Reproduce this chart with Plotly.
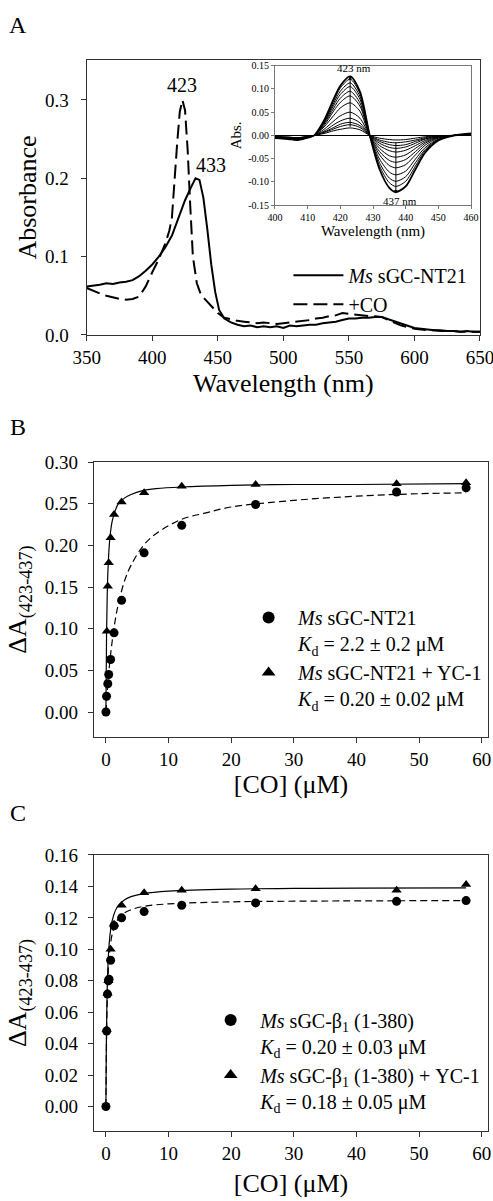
import plotly.graph_objects as go

SERIF = 'Liberation Serif, Times New Roman, serif'

# ---- Panel A: spectra of Ms sGC-NT21 without / with CO ----
wl_free = [350, 355, 360, 365, 370, 375, 380, 385, 390, 395, 400, 405, 410, 415, 420, 425, 430, 433, 436,
           439, 442, 445, 448, 451, 455, 460, 465, 470, 475, 480, 485, 490, 495, 500, 505, 510, 515, 520,
           525, 530, 535, 540, 545, 550, 555, 560, 565, 570, 575, 580, 585, 590, 595, 600, 605, 610, 615,
           620, 625, 630, 635, 640, 645, 650]
abs_free = [0.062, 0.063, 0.064, 0.066, 0.065, 0.067, 0.068, 0.070, 0.075, 0.082, 0.090, 0.100, 0.112, 0.127,
            0.150, 0.172, 0.190, 0.200, 0.198, 0.175, 0.135, 0.090, 0.055, 0.032, 0.021, 0.016, 0.013, 0.011,
            0.012, 0.010, 0.011, 0.010, 0.011, 0.009, 0.012, 0.011, 0.012, 0.013, 0.013, 0.015, 0.016, 0.017,
            0.019, 0.021, 0.021, 0.022, 0.022, 0.023, 0.023, 0.020, 0.018, 0.014, 0.011, 0.009, 0.008, 0.007,
            0.006, 0.006, 0.005, 0.005, 0.004, 0.005, 0.004, 0.004]

wl_co = [350, 355, 360, 365, 370, 375, 380, 385, 390, 395, 400, 405, 410, 413, 415, 417, 419, 421, 423, 425,
         427, 429, 431, 434, 437, 440, 445, 450, 455, 460, 465, 470, 475, 480, 485, 490, 495, 500, 505, 510,
         515, 520, 525, 530, 535, 540, 545, 550, 555, 560, 565, 570, 575, 580, 585, 590, 595, 600, 605, 610,
         615, 620, 625, 630, 635, 640, 645, 650]
abs_co = [0.060, 0.056, 0.053, 0.050, 0.048, 0.046, 0.045, 0.046, 0.049, 0.062, 0.080, 0.097, 0.117, 0.133,
          0.150, 0.200, 0.245, 0.285, 0.300, 0.287, 0.236, 0.164, 0.100, 0.066, 0.052, 0.046, 0.037, 0.028,
          0.022, 0.020, 0.018, 0.017, 0.016, 0.015, 0.016, 0.015, 0.014, 0.015, 0.016, 0.017, 0.018, 0.019,
          0.021, 0.022, 0.024, 0.025, 0.028, 0.027, 0.026, 0.025, 0.024, 0.024, 0.023, 0.019, 0.015, 0.012,
          0.010, 0.008, 0.007, 0.006, 0.006, 0.005, 0.005, 0.005, 0.004, 0.004, 0.004, 0.004]

# ---- Inset: difference spectra during CO titration ----
wl_diff = [400, 404, 407, 410, 412, 415, 418, 420, 423, 426, 429, 432, 435, 437, 440, 443, 446, 450, 455, 460]
diff_spectra = [
    [-0.003, -0.004, -0.005, -0.002, 0, 0.004, 0.010, 0.013, 0.016, 0.012, 0, -0.006, -0.009, -0.010, -0.009, -0.006, -0.003, -0.001, 0, 0.001],
    [-0.003, -0.004, -0.005, -0.003, 0, 0.006, 0.014, 0.019, 0.023, 0.017, 0, -0.010, -0.015, -0.016, -0.014, -0.010, -0.005, -0.001, 0, 0.001],
    [-0.003, -0.004, -0.005, -0.003, 0, 0.007, 0.017, 0.024, 0.028, 0.021, 0, -0.013, -0.020, -0.022, -0.020, -0.013, -0.007, -0.002, 0, 0.001],
    [-0.003, -0.005, -0.006, -0.003, 0, 0.009, 0.023, 0.031, 0.037, 0.027, 0, -0.017, -0.026, -0.028, -0.025, -0.017, -0.008, -0.003, 0, 0.001],
    [-0.004, -0.005, -0.006, -0.003, 0, 0.013, 0.031, 0.042, 0.050, 0.037, 0, -0.022, -0.033, -0.036, -0.032, -0.022, -0.011, -0.003, 0, 0.001],
    [-0.004, -0.006, -0.007, -0.004, 0, 0.018, 0.043, 0.059, 0.070, 0.052, 0, -0.028, -0.044, -0.047, -0.042, -0.028, -0.014, -0.004, 0, 0.001],
    [-0.005, -0.006, -0.008, -0.004, 0, 0.021, 0.053, 0.071, 0.085, 0.063, 0, -0.035, -0.054, -0.058, -0.052, -0.035, -0.017, -0.005, 0, 0.002],
    [-0.005, -0.007, -0.009, -0.004, 0, 0.024, 0.059, 0.080, 0.095, 0.070, 0, -0.042, -0.065, -0.070, -0.063, -0.042, -0.021, -0.006, 0, 0.002],
    [-0.005, -0.007, -0.009, -0.005, 0, 0.026, 0.065, 0.088, 0.105, 0.078, 0, -0.051, -0.079, -0.085, -0.077, -0.051, -0.026, -0.008, 0, 0.003],
    [-0.006, -0.007, -0.009, -0.005, 0, 0.028, 0.070, 0.095, 0.113, 0.084, 0, -0.059, -0.092, -0.099, -0.089, -0.059, -0.030, -0.009, 0, 0.003],
    [-0.006, -0.008, -0.010, -0.005, 0, 0.030, 0.075, 0.102, 0.121, 0.090, 0, -0.066, -0.102, -0.110, -0.099, -0.066, -0.033, -0.010, 0, 0.003],
    [-0.006, -0.008, -0.010, -0.005, 0, 0.032, 0.079, 0.107, 0.127, 0.094, 0, -0.073, -0.113, -0.122, -0.110, -0.073, -0.037, -0.011, 0, 0.004],
]
peak_arrow = [0.015, 0.128]     # at 423 nm
trough_arrow = [-0.012, -0.125]  # at 437 nm

# ---- Panel B: CO titration of Ms sGC-NT21 ----
co_b_free = [0, 0.1, 0.3, 0.45, 0.75, 1.3, 2.5, 6.1, 12.1, 23.9, 46.4, 57.5]
dA_b_free = [0, 0.019, 0.034, 0.045, 0.063, 0.095, 0.134, 0.191, 0.224, 0.249, 0.264, 0.269]
co_b_yc1 = [0.15, 0.3, 0.45, 0.75, 1.3, 2.5, 6.1, 12.1, 23.9, 46.4, 57.5]
dA_b_yc1 = [0.097, 0.151, 0.179, 0.209, 0.237, 0.252, 0.263, 0.271, 0.273, 0.274, 0.275]
fit_b_free_x = [0, 0.25, 0.5, 1, 1.5, 2, 3, 4, 6, 8, 12, 16, 20, 30, 40, 50, 57.5]
fit_b_free_y = [0, 0.028, 0.051, 0.085, 0.111, 0.130, 0.158, 0.176, 0.200, 0.214, 0.231, 0.239, 0.246, 0.254, 0.259, 0.262, 0.263]
fit_b_yc1_x = [0, 0.1, 0.2, 0.3, 0.5, 0.75, 1, 1.5, 2, 3, 4, 6, 8, 12, 20, 30, 40, 57.5]
fit_b_yc1_y = [0, 0.092, 0.137, 0.165, 0.196, 0.217, 0.229, 0.242, 0.250, 0.257, 0.261, 0.266, 0.268, 0.270, 0.272, 0.273, 0.273, 0.274]

# ---- Panel C: CO titration of Ms sGC-beta1(1-380) ----
co_c_free = [0, 0.12, 0.25, 0.4, 0.5, 0.75, 1.3, 2.5, 6.1, 12.1, 23.9, 46.4, 57.5]
dA_c_free = [0, 0.048, 0.0715, 0.080, 0.081, 0.093, 0.115, 0.120, 0.124, 0.128, 0.1295, 0.1305, 0.131]
co_c_yc1 = [0.12, 0.25, 0.4, 0.75, 1.3, 2.5, 6.1, 12.1, 23.9, 46.4, 57.5]
dA_c_yc1 = [0.049, 0.072, 0.080, 0.100, 0.116, 0.128, 0.136, 0.1375, 0.1385, 0.1375, 0.1412]
fit_c_free_x = [0, 0.1, 0.2, 0.3, 0.5, 0.75, 1, 1.5, 2, 3, 4, 6, 10, 20, 30, 40, 57.5]
fit_c_free_y = [0, 0.0438, 0.0658, 0.0789, 0.0939, 0.1038, 0.1096, 0.1160, 0.1195, 0.1233, 0.1252, 0.1273, 0.1289, 0.1302, 0.1306, 0.1308, 0.1310]
fit_c_yc1_x = [0, 0.05, 0.1, 0.2, 0.3, 0.5, 0.75, 1, 1.5, 2, 3, 4, 6, 10, 20, 30, 40, 57.5]
fit_c_yc1_y = [0, 0.0303, 0.0498, 0.0734, 0.0872, 0.1026, 0.1125, 0.1182, 0.1246, 0.1280, 0.1316, 0.1335, 0.1354, 0.1370, 0.1383, 0.1387, 0.1389, 0.1391]

tick_a_y = [0, 0.1, 0.2, 0.3]
tick_a_y_text = ['0.0', '0.1', '0.2', '0.3']
tick_in_y = [-0.15, -0.10, -0.05, 0, 0.05, 0.10, 0.15]
tick_in_y_text = ['-0.15', '-0.10', '-0.05', '0.00', '0.05', '0.10', '0.15']

fig = go.Figure()

# panel A
fig.add_trace(go.Scatter(x=wl_free, y=abs_free, mode='lines', name='<i>Ms</i> sGC-NT21',
                         line=dict(color='black', width=2), legend='legend'))
fig.add_trace(go.Scatter(x=wl_co, y=abs_co, mode='lines', name='+CO',
                         line=dict(color='black', width=2, dash='14px,6px'), legend='legend'))

# inset
for i, spec in enumerate(diff_spectra):
    fig.add_trace(go.Scatter(x=wl_diff, y=spec, mode='lines', xaxis='x2', yaxis='y2', showlegend=False,
                             line=dict(color='black', width=1.8 if i == len(diff_spectra) - 1 else 1,
                                       shape='spline', smoothing=0.8)))

# panel B
fig.add_trace(go.Scatter(x=fit_b_free_x, y=fit_b_free_y, mode='lines', xaxis='x3', yaxis='y3', showlegend=False,
                         line=dict(color='black', width=1.2, dash='7px,4px', shape='spline')))
fig.add_trace(go.Scatter(x=fit_b_yc1_x, y=fit_b_yc1_y, mode='lines', xaxis='x3', yaxis='y3', showlegend=False,
                         line=dict(color='black', width=1.2, shape='spline')))
fig.add_trace(go.Scatter(x=co_b_free, y=dA_b_free, mode='markers', xaxis='x3', yaxis='y3', legend='legend2',
                         name='<i>Ms</i> sGC-NT21<br><i>K</i><sub>d</sub> = 2.2 ± 0.2 μM',
                         marker=dict(symbol='circle', size=9, color='black')))
fig.add_trace(go.Scatter(x=co_b_yc1, y=dA_b_yc1, mode='markers', xaxis='x3', yaxis='y3', legend='legend2',
                         name='<i>Ms</i> sGC-NT21 + YC-1<br><i>K</i><sub>d</sub> = 0.20 ± 0.02 μM',
                         marker=dict(symbol='triangle-up', size=9, color='black')))

# panel C
fig.add_trace(go.Scatter(x=fit_c_free_x, y=fit_c_free_y, mode='lines', xaxis='x4', yaxis='y4', showlegend=False,
                         line=dict(color='black', width=1.2, dash='7px,4px', shape='spline')))
fig.add_trace(go.Scatter(x=fit_c_yc1_x, y=fit_c_yc1_y, mode='lines', xaxis='x4', yaxis='y4', showlegend=False,
                         line=dict(color='black', width=1.2, shape='spline')))
fig.add_trace(go.Scatter(x=co_c_free, y=dA_c_free, mode='markers', xaxis='x4', yaxis='y4', legend='legend3',
                         name='<i>Ms</i> sGC-β<sub>1</sub> (1-380)<br><i>K</i><sub>d</sub> = 0.20 ± 0.03 μM',
                         marker=dict(symbol='circle', size=9, color='black')))
fig.add_trace(go.Scatter(x=co_c_yc1, y=dA_c_yc1, mode='markers', xaxis='x4', yaxis='y4', legend='legend3',
                         name='<i>Ms</i> sGC-β<sub>1</sub> (1-380) + YC-1<br><i>K</i><sub>d</sub> = 0.18 ± 0.05 μM',
                         marker=dict(symbol='triangle-up', size=9, color='black')))


def frame(size=19, **kw):
    d = dict(showline=True, linecolor='#333', linewidth=1.2, mirror=True, ticks='outside', ticklen=5,
             tickcolor='#333', showgrid=False, zeroline=False, automargin=False, ticklabeloverflow='allow',
             tickfont=dict(family=SERIF, size=size, color='black'))
    d.update(kw)
    return d


big = dict(family=SERIF, size=26, color='black')
leg_font = dict(family=SERIF, size=20, color='black')

fig.update_layout(
    width=493, height=1201, margin=dict(l=0, r=0, t=0, b=0, autoexpand=False),
    paper_bgcolor='white', plot_bgcolor='white',
    xaxis=frame(domain=[0.1759, 0.9736], anchor='y', range=[350, 650], dtick=50,
                title=dict(text='Wavelength (nm)', font=big, standoff=6)),
    yaxis=frame(domain=[0.7211, 0.95], anchor='x', range=[0, 0.351], tickvals=tick_a_y, ticktext=tick_a_y_text,
                ticklabelstandoff=8, title=dict(text='Absorbance', font=big, standoff=0)),
    xaxis2=frame(size=10, domain=[0.5578, 0.9554], anchor='y2', range=[400, 460], dtick=10, ticklen=3,
                 linecolor='#777', tickcolor='#777', linewidth=1,
                 title=dict(text='Wavelength (nm)', font=dict(family=SERIF, size=15, color='black'), standoff=2)),
    yaxis2=frame(size=10, domain=[0.8293, 0.9453], anchor='x2', range=[-0.15, 0.15], tickvals=tick_in_y,
                 ticktext=tick_in_y_text, ticklen=3, linecolor='#777', tickcolor='#777', linewidth=1,
                 zeroline=True, zerolinecolor='black', zerolinewidth=1,
                 title=dict(text='Abs.', font=dict(family=SERIF, size=15, color='black'), standoff=2)),
    xaxis3=frame(domain=[0.1907, 0.9899], anchor='y3', range=[-1.9, 61], dtick=10,
                 title=dict(text='[CO] (μM)', font=big, standoff=2)),
    yaxis3=frame(domain=[0.3863, 0.6153], anchor='x3', range=[-0.03, 0.30], dtick=0.05, tickformat='.2f',
                 ticklabelstandoff=6, title=dict(text='ΔA<sub>(423-437)</sub>', font=big, standoff=10)),
    xaxis4=frame(domain=[0.1907, 0.9899], anchor='y4', range=[-1.9, 61], dtick=10,
                 title=dict(text='[CO] (μM)', font=big, standoff=10)),
    yaxis4=frame(domain=[0.0583, 0.2881], anchor='x4', range=[-0.0156, 0.16], dtick=0.02, tickformat='.2f',
                 ticklabelstandoff=6, title=dict(text='ΔA<sub>(423-437)</sub>', font=big, standoff=10)),
    legend=dict(x=0.585, y=0.787, xanchor='left', yanchor='top', font=leg_font, bgcolor='rgba(0,0,0,0)',
                itemwidth=50, tracegroupgap=0),
    legend2=dict(x=0.485, y=0.502, xanchor='left', yanchor='top', font=leg_font, bgcolor='rgba(0,0,0,0)',
                 valign='top', itemsizing='constant', itemwidth=49),
    legend3=dict(x=0.408, y=0.167, xanchor='left', yanchor='top', font=leg_font, bgcolor='rgba(0,0,0,0)',
                 valign='top', itemsizing='constant', itemwidth=49),
)

# peak labels
fig.add_annotation(x=423, y=0.300, text='423', showarrow=False, yanchor='bottom', xref='x', yref='y',
                   font=dict(family=SERIF, size=20, color='black'), yshift=2)
fig.add_annotation(x=433, y=0.200, text='433', showarrow=False, yanchor='bottom', xanchor='left', xref='x',
                   yref='y', font=dict(family=SERIF, size=20, color='black'), xshift=-2)

# inset arrows and labels
fig.add_annotation(x=423, y=peak_arrow[1], ax=423, ay=peak_arrow[0], xref='x2', yref='y2', axref='x2',
                   ayref='y2', showarrow=True, arrowhead=2, arrowsize=0.7, arrowwidth=1, arrowcolor='black',
                   text='')
fig.add_annotation(x=437, y=trough_arrow[1], ax=437, ay=trough_arrow[0], xref='x2', yref='y2', axref='x2',
                   ayref='y2', showarrow=True, arrowhead=2, arrowsize=0.7, arrowwidth=1, arrowcolor='black',
                   text='')
fig.add_annotation(x=423, y=0.128, text='423 nm', showarrow=False, yanchor='bottom', xanchor='center',
                   xref='x2', yref='y2', font=dict(family=SERIF, size=11, color='black'), xshift=4)
fig.add_annotation(x=437, y=-0.125, text='437 nm', showarrow=False, yanchor='top', xanchor='center',
                   xref='x2', yref='y2', font=dict(family=SERIF, size=11, color='black'), xshift=4)

# panel letters
for letter, py in [('A', 25), ('B', 427), ('C', 813)]:
    fig.add_annotation(x=18 / 493, y=1 - py / 1201, xref='paper', yref='paper', text=letter, showarrow=False,
                       xanchor='center', yanchor='middle', font=dict(family=SERIF, size=24, color='black'))

# drop the default page margin so the figure sits at the window's corner
fig.write_html('out.html', config={'displayModeBar': False},
               post_script="document.body.style.margin = '0px';")
